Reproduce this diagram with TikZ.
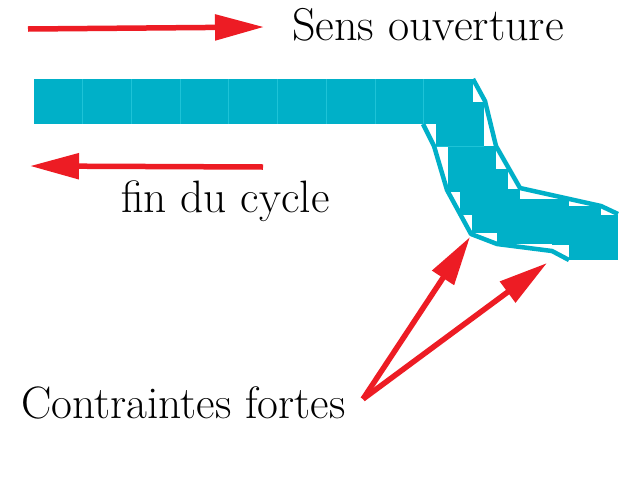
\documentclass[tikz,border=0pt]{standalone}
\usepackage{fontspec}
\setmainfont{Latin Modern Roman}
\usetikzlibrary{arrows.meta}
\definecolor{teal1}{RGB}{0,176,200}
\definecolor{teal2}{RGB}{30,195,215}
\definecolor{red1}{RGB}{237,28,36}
\tikzset{
  x=1pt,y=-1pt,
  cell/.style={fill=teal1,draw=none},
  seam/.style={draw=teal2,line width=0.5pt},
  outline/.style={draw=teal1,line width=4.5pt,line join=round},
  redarrow/.style={draw=red1,line width=5.5pt,-{Triangle[length=49pt,width=25pt,fill=red1]}},
  label/.style={anchor=base west,inner sep=0pt,font=\fontsize{45.4}{47}\selectfont,text=black},
  labelwide/.style={label,font=\fontsize{46}{48}\selectfont}
}
\begin{document}
\begin{tikzpicture}
\useasboundingbox (0,0) rectangle (640,480);
\fill[white] (0,0) rectangle (640,480);
% straight part
\fill[cell] (34,79) rectangle (473,124);
\foreach \sx in {82.5,131.5,180,228.5,277.5,326,375,423.5}{\draw[seam] (\sx,79) -- (\sx,124);}
% stair part
\fill[cell] (436,101.5) rectangle (484,146);
\fill[cell] (448,146) rectangle (496,192);
\fill[cell] (460,169) rectangle (508,215);
\fill[cell] (472,189) rectangle (520,233);
\fill[cell] (497,199) rectangle (569,244);
\fill[cell] (569,206) rectangle (601,250);
\fill[cell] (552,206) rectangle (569,245);
\fill[cell] (569,215) rectangle (618,260);
\draw[seam] (436,146) -- (484,146);
% outlines
\draw[outline] (473,79) -- (485,101) -- (496,146) -- (520,188) -- (601,206) -- (618,214);
\draw[outline] (423,124) -- (434,146) -- (447,190) -- (471,234) -- (497,244) -- (552,251) -- (569,260);
% arrows
\coordinate (a1s) at (28,29); \coordinate (a1e) at (264,27);
\coordinate (a2s) at (263,167); \coordinate (a2e) at (30,166);
\coordinate (a3s) at (363,399); \coordinate (a3e) at (470,237); \coordinate (a4e) at (547,263);
\draw[redarrow] (a1s) -- (a1e);
\draw[redarrow] (a2s) -- (a2e);
\draw[redarrow] (a3s) -- (a3e);
\draw[redarrow] (a3s) -- (a4e);
% labels
\node[labelwide] (t1) at (292,40) {Sens ouverture};
\node[label] (t2) at (121,212) {fin du cycle};
\node[label] (t3) at (21,418) {Contraintes fortes};
\end{tikzpicture}
\end{document}
